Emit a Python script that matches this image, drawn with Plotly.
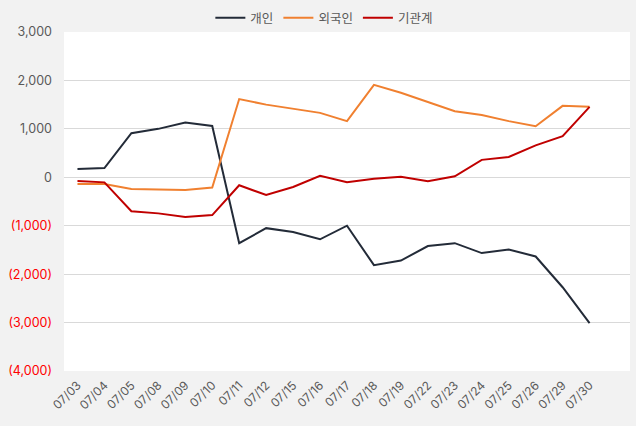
import plotly.graph_objects as go

dates = ["07/03", "07/04", "07/05", "07/08", "07/09", "07/10", "07/11", "07/12", "07/15", "07/16",
         "07/17", "07/18", "07/19", "07/22", "07/23", "07/24", "07/25", "07/26", "07/29", "07/30"]
individual = [170, 190, 910, 1000, 1130, 1060, -1360, -1050, -1130, -1280,
              -1000, -1815, -1720, -1420, -1360, -1565, -1490, -1635, -2270, -3010]
foreign = [-140, -140, -240, -250, -260, -210, 1615, 1500, 1415, 1330,
           1160, 1910, 1745, 1550, 1365, 1285, 1160, 1055, 1475, 1455]
institution = [-75, -105, -700, -745, -820, -780, -165, -365, -200, 30,
               -100, -30, 10, -80, 20, 360, 420, 660, 850, 1455]
y_ticks = [3000, 2000, 1000, 0, -1000, -2000, -3000, -4000]

def fmt(v):
    if v < 0:
        return '<span style="color:#FF0000">({:,})</span>'.format(-v)
    return "{:,}".format(v)

idx = list(range(len(dates)))
fig = go.Figure()
series = [("개인", individual, "#232b38"), ("외국인", foreign, "#F08030"), ("기관계", institution, "#C00000")]
for name, vals, col in series:
    fig.add_trace(go.Scatter(x=idx, y=vals, mode="lines", name=name,
                             line=dict(color=col, width=2)))

fig.update_layout(
    width=636, height=426,
    margin=dict(l=64, r=6, t=32, b=55, autoexpand=False),
    paper_bgcolor="#f2f2f2", plot_bgcolor="#ffffff",
    font=dict(family="Inter, Noto Sans CJK KR, sans-serif", size=12, color="#595959"),
    showlegend=True,
    legend=dict(orientation="h", x=0.51, xanchor="center", xref="container",
                y=1 - 18 / 426, yanchor="middle", yref="container",
                font=dict(size=12.5, color="#595959"), bgcolor="rgba(0,0,0,0)",
                itemwidth=30, tracegroupgap=0),
)
fig.update_xaxes(range=[-0.5, 20.5], tickmode="array", tickvals=idx, ticktext=dates,
                 tickangle=-45, showgrid=False, zeroline=False, showline=False,
                 tickfont=dict(size=12, color="#595959"), ticks="", automargin=False,
                 ticklabelstandoff=4)
fig.update_yaxes(range=[-4000, 3000], tickmode="array", tickvals=y_ticks,
                 ticktext=[fmt(v) for v in y_ticks], showgrid=True, gridcolor="#d9d9d9",
                 gridwidth=1, zeroline=False, showline=False, ticks="",
                 tickfont=dict(size=12.5, color="#595959"), ticklabelstandoff=11, automargin=False)

fig.write_html("out.html", config={"displayModeBar": False},
               post_script="document.body.style.margin='0';document.body.style.background='#f2f2f2';document.body.style.overflow='hidden';")
